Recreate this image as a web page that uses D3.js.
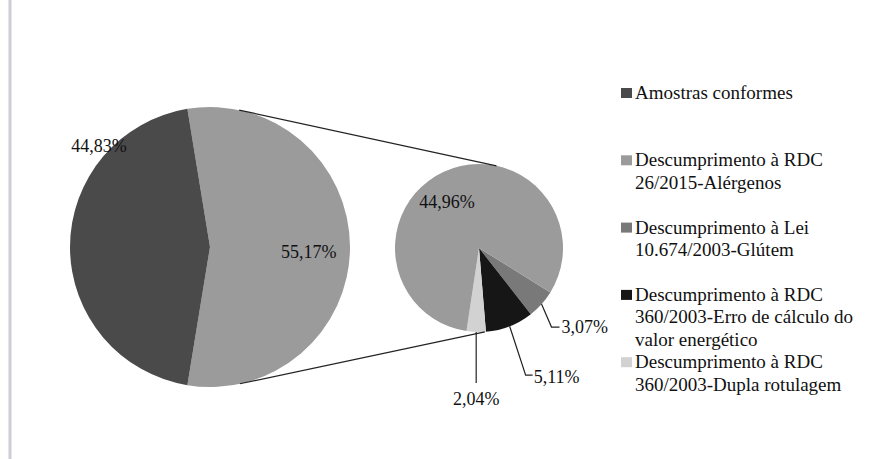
<!DOCTYPE html>
<html><head><meta charset="utf-8">
<script src="https://cdn.jsdelivr.net/npm/d3@7"></script>
<style>body{margin:0;background:#fff}svg{display:block}</style>
</head><body><svg id="c" width="893" height="459"></svg>
<script>
// ---- data ----
const mainCategories = ["Descumprimentos", "Amostras conformes"];
const mainValues = [55.17, 44.83];
const mainLabels = ["55,17%", "44,83%"];

const subCategories = [
  "Descumprimento à Lei 10.674/2003-Glútem",
  "Descumprimento à RDC 360/2003-Erro de cálculo do valor energético",
  "Descumprimento à RDC 360/2003-Dupla rotulagem",
  "Descumprimento à RDC 26/2015-Alérgenos"
];
const subValues = [3.07, 5.11, 2.04, 44.96];
const subLabels = ["3,07%", "5,11%", "2,04%", "44,96%"];

const legendItems = [
  ["Amostras conformes"],
  ["Descumprimento à RDC", "26/2015-Alérgenos"],
  ["Descumprimento à Lei", "10.674/2003-Glútem"],
  ["Descumprimento à RDC", "360/2003-Erro de cálculo do", "valor energético"],
  ["Descumprimento à RDC", "360/2003-Dupla rotulagem"]
];
const legendColors = ["#4a4a4a", "#9b9b9b", "#797979", "#161616", "#d2d2d2"];

// ---- layout ----
const svg = d3.select("#c");
const font = "'Liberation Serif','Times New Roman',serif";
const deg = Math.PI / 180;

svg.append("line").attr("x1", 10).attr("x2", 10).attr("y1", 0).attr("y2", 459)
  .attr("stroke", "#cdcdd6").attr("stroke-width", 3);

const big = {cx: 210, cy: 247, r: 140};
const small = {cx: 479, cy: 248, r: 84};

const mainColors = ["#9b9b9b", "#4a4a4a"];
const subColors = ["#797979", "#161616", "#d2d2d2", "#9b9b9b"];

// big pie: "other" slice centred on the right-hand side
const otherSpan = mainValues[0] / d3.sum(mainValues) * 2 * Math.PI;
const bigStart = Math.PI / 2 - otherSpan / 2;
const bigPie = d3.pie().sort(null).startAngle(bigStart).endAngle(bigStart + 2 * Math.PI);
const bigArc = d3.arc().innerRadius(0).outerRadius(big.r);
const gBig = svg.append("g").attr("transform", `translate(${big.cx},${big.cy})`);
gBig.selectAll("path").data(bigPie(mainValues)).join("path")
  .attr("d", bigArc).attr("fill", (d, i) => mainColors[i]);

const smallStart = 121.9 * deg;
const smallPie = d3.pie().sort(null).startAngle(smallStart).endAngle(smallStart + 2 * Math.PI);
const smallArc = d3.arc().innerRadius(0).outerRadius(small.r);
const smallArcs = smallPie(subValues);
const gSmall = svg.append("g").attr("transform", `translate(${small.cx},${small.cy})`);
gSmall.selectAll("path").data(smallArcs).join("path")
  .attr("d", smallArc).attr("fill", (d, i) => subColors[i]);

// connector lines
function polar(c, r, a) { return [c.cx + r * Math.sin(a), c.cy - r * Math.cos(a)]; }
const connectors = [[12 * deg, 12 * deg], [167.7 * deg, 176 * deg]];
connectors.forEach(([a1, a2]) => {
  const p1 = polar(big, big.r, a1), p2 = polar(small, small.r, a2);
  svg.append("line").attr("x1", p1[0]).attr("y1", p1[1]).attr("x2", p2[0]).attr("y2", p2[1])
    .attr("stroke", "#222").attr("stroke-width", 1.2);
});

// labels big pie
const lblSize = 18;
const bigLabelPos = [[93 * deg, 99], [-47.7 * deg, 150]];
mainLabels.forEach((t, i) => {
  const p = polar(big, bigLabelPos[i][1], bigLabelPos[i][0]);
  svg.append("text").attr("x", p[0]).attr("y", p[1]).attr("dy", "0.35em")
    .attr("text-anchor", "middle").attr("font-family", font).attr("font-size", lblSize)
    .attr("fill", "#111").text(t);
});

// small pie labels
// 44,96% inside
{
  const p = polar(small, 56, -35 * deg);
  svg.append("text").attr("x", p[0]).attr("y", p[1]).attr("dy", "0.35em")
    .attr("text-anchor", "middle").attr("font-family", font).attr("font-size", lblSize)
    .attr("fill", "#111").text(subLabels[3]);
}
// leader lines (elbow offsets relative to arc edge point)
const leaders = [
  {i: 0, pts: [[10, 23], [18, 23]], tx: 20, ty: 23, anchor: "start"},
  {i: 1, pts: [[16, 49], [23, 49]], tx: 24, ty: 50, anchor: "start"},
  {i: 2, pts: [[0, 51]], tx: 0, ty: 67, anchor: "middle"}
];
leaders.forEach(L => {
  const a = smallArcs[L.i];
  const mid = (a.startAngle + a.endAngle) / 2;
  const p0 = polar(small, small.r, mid);
  const pts = [p0].concat(L.pts.map(([dx, dy]) => [p0[0] + dx, p0[1] + dy]));
  svg.append("path").attr("d", d3.line()(pts)).attr("fill", "none")
    .attr("stroke", "#222").attr("stroke-width", 1.2);
  svg.append("text").attr("x", p0[0] + L.tx).attr("y", p0[1] + L.ty).attr("dy", "0.35em")
    .attr("text-anchor", L.anchor).attr("font-family", font).attr("font-size", lblSize)
    .attr("fill", "#111").text(subLabels[L.i]);
});

// legend
const lg = svg.append("g").attr("font-family", font).attr("font-size", 19).attr("fill", "#111");
legendItems.forEach((lines, i) => {
  const by = 99 + i * 67.3;
  lg.append("rect").attr("x", 621).attr("y", by - 11).attr("width", 11).attr("height", 10)
    .attr("fill", legendColors[i]);
  lines.forEach((t, j) => {
    lg.append("text").attr("x", 635).attr("y", by + j * 22.3).text(t);
  });
});
</script></body></html>
